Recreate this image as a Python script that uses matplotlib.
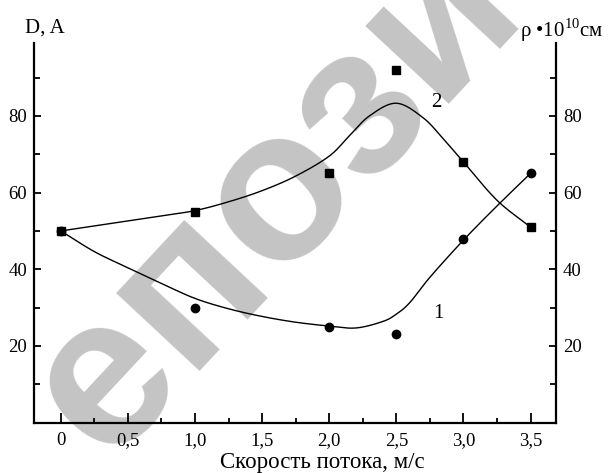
import numpy as np
import matplotlib
matplotlib.use("Agg")
import matplotlib.pyplot as plt
from matplotlib.ticker import MultipleLocator, FixedLocator

# ---- data ----
speed = [0.0, 1.0, 2.0, 2.5, 3.0, 3.5]
d_points = [50, 30, 25, 23, 48, 65]        # series 1 (circles)
rho_points = [50, 55, 65, 92, 68, 51]      # series 2 (squares)

# smooth fitted curves
curve1_x = [0.0, 0.25, 0.5, 0.75, 1.0, 1.25, 1.5, 1.75, 2.0, 2.2, 2.4, 2.5, 2.6, 2.75, 3.0, 3.25, 3.5]
curve1_y = [50, 44.6, 40.4, 36.3, 32.4, 29.7, 27.7, 26.2, 25.2, 24.7, 26.4, 28.3, 31.3, 37.9, 47.6, 56.5, 65]
curve2_x = [0.0, 0.25, 0.5, 0.75, 1.0, 1.25, 1.5, 1.75, 2.0, 2.15, 2.3, 2.5, 2.7, 2.85, 3.0, 3.25, 3.5]
curve2_y = [50, 51.3, 52.6, 53.9, 55.3, 57.6, 60.5, 64.3, 69.5, 74.8, 80.0, 83.3, 79.5, 74.0, 68.0, 58.0, 51.0]

x_ticks = [0, 0.5, 1.0, 1.5, 2.0, 2.5, 3.0, 3.5]
x_labels = ["0", "0,5", "1,0", "1,5", "2,0", "2,5", "3,0", "3,5"]
y_ticks = [20, 40, 60, 80]
y_labels = ["20", "40", "60", "80"]


def smooth(xs, ys, n=20):
    """Catmull-Rom rendering of a curve through read points."""
    xs = np.asarray(xs, float); ys = np.asarray(ys, float)
    P = np.column_stack([xs, ys])
    P = np.vstack([2 * P[0] - P[1], P, 2 * P[-1] - P[-2]])
    out = []
    t = np.linspace(0, 1, n, endpoint=False)[:, None]
    for i in range(1, len(P) - 2):
        p0, p1, p2, p3 = P[i - 1], P[i], P[i + 1], P[i + 2]
        seg = 0.5 * ((2 * p1) + (-p0 + p2) * t + (2 * p0 - 5 * p1 + 4 * p2 - p3) * t ** 2
                     + (-p0 + 3 * p1 - 3 * p2 + p3) * t ** 3)
        out.append(seg)
    out.append(P[-2][None, :])
    out = np.vstack(out)
    return out[:, 0], out[:, 1]


plt.rcParams['font.family'] = ['Liberation Serif', 'DejaVu Serif']
plt.rcParams['mathtext.fontset'] = 'custom'
plt.rcParams['mathtext.rm'] = 'Liberation Serif'

fig = plt.figure(figsize=(6.09, 4.73), dpi=100)
ax = fig.add_axes([34 / 609, 1 - 422.7 / 473, (556 - 34) / 609, (422.7 - 43) / 473])

# watermark (behind the data)
ax.text(312 / 609, 1 - 160 / 473, "епозит", transform=fig.transFigure,
        fontsize=155, fontweight='bold', family='Liberation Sans',
        color='#c4c4c4', rotation=47, ha='center', va='center', zorder=0,
        rotation_mode='anchor', clip_on=False)
ax.patch.set_alpha(0)

c1x, c1y = smooth(curve1_x, curve1_y)
c2x, c2y = smooth(curve2_x, curve2_y)
ax.plot(c1x, c1y, color='black', lw=1.0, zorder=3)
ax.plot(c2x, c2y, color='black', lw=1.0, zorder=3)
ax.plot(speed, d_points, 'o', color='black', ms=6, zorder=4)
ax.plot(speed, rho_points, 's', color='black', ms=5.5, zorder=4)

ax.text(2.80, 83.5, "2", fontsize=15, ha='center', va='center', zorder=5)
ax.text(2.81, 28.5, "1", fontsize=15, ha='center', va='center', zorder=5)

ax.set_xlim(-0.2, 3.69)
ax.set_ylim(0, 99)
ax.xaxis.set_major_locator(FixedLocator(x_ticks))
ax.set_xticklabels(x_labels)
ax.xaxis.set_minor_locator(MultipleLocator(0.25))
ax.yaxis.set_major_locator(FixedLocator(y_ticks))
ax.set_yticklabels(y_labels)
ax.yaxis.set_minor_locator(MultipleLocator(10))

ax.tick_params(axis='both', which='both', direction='in', labelsize=13.5, width=1.3)
ax.tick_params(axis='x', which='major', length=7, pad=7)
ax.tick_params(axis='x', which='minor', length=3.5)
ax.tick_params(axis='y', which='major', length=5, pad=5, left=True, right=True,
               labelleft=True, labelright=True)
ax.tick_params(axis='y', which='minor', length=4, left=True, right=True)

for side in ['left', 'right', 'bottom']:
    ax.spines[side].set_linewidth(1.6)
ax.spines['top'].set_visible(False)

fig.text(322 / 609, 1 - 462 / 473, "Скорость потока, м/с", fontsize=16.5, ha='center', va='center')
fig.text(45 / 609, 1 - 28 / 473, "D, A", fontsize=15, ha='center', va='center')
fig.text(562 / 609, 1 - 30 / 473, r"ρ •10$^{10}$см", fontsize=15, ha='center', va='center')

fig.savefig("out.png", dpi=100)
